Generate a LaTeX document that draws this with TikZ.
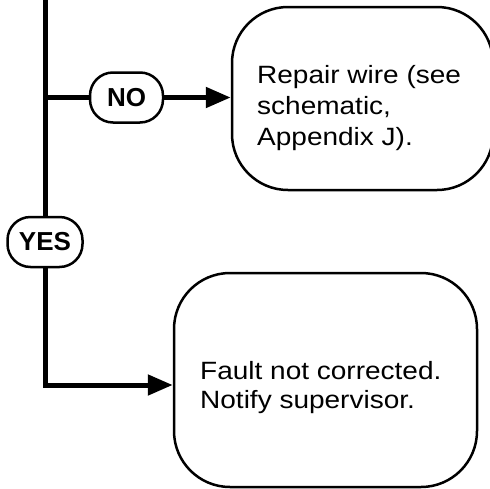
\documentclass[tikz,border=0pt]{standalone}
\usepackage{fontspec}
\setmainfont{Liberation Sans}
\newfontfamily\boxfont{Liberation Sans}[FakeStretch=1.12]
\usetikzlibrary{arrows.meta,calc}
\tikzset{
  conn/.style={line width=5pt, line join=miter},
  arr/.style={conn, -{Triangle[length=25pt,width=20pt]}},
  bigbox/.style={draw, line width=2.5pt, rounded corners=56pt, inner sep=0pt},
  lbl/.style={draw, line width=2.5pt, rounded corners=23pt, inner sep=0pt,
    font=\fontsize{26}{30}\selectfont\bfseries},
  txt/.style={anchor=base west, inner sep=0pt, font=\boxfont\fontsize{25}{30}\selectfont}
}
\begin{document}
\begin{tikzpicture}[x=1pt,y=-1pt]
\useasboundingbox (0,0) rectangle (490,488);
% boxes
\node[bigbox, minimum width=261pt, minimum height=183pt] (repair) at (362.5,98.5) {};
\node[bigbox, minimum width=303pt, minimum height=214pt] (fault) at (325.5,380) {};
% labels
\node[lbl, minimum width=73pt, minimum height=50pt] (no) at (126.5,97.5) {NO};
\node[lbl, minimum width=75pt, minimum height=50pt] (yes) at (45,242) {YES};
% texts
\node[txt] (r1) at (257,83) {Repair wire (see};
\node[txt] (r2) at (257,114) {schematic,};
\node[txt] (r3) at (257,145) {Appendix J).};
\node[txt] (f1) at (200,379) {Fault not corrected.};
\node[txt] (f2) at (200,408) {Notify supervisor.};
% connectors
\coordinate (top) at (45,-5);
\coordinate (jn) at (45,97.5);
\draw[conn] (top) -- (yes.north);
\draw[conn] (jn) -- (no.west);
\draw[arr] (no.east) -- (no.east -| repair.west);
\draw[arr] (yes.south) |- ([yshift=-5pt]fault.west);
\end{tikzpicture}
\end{document}
